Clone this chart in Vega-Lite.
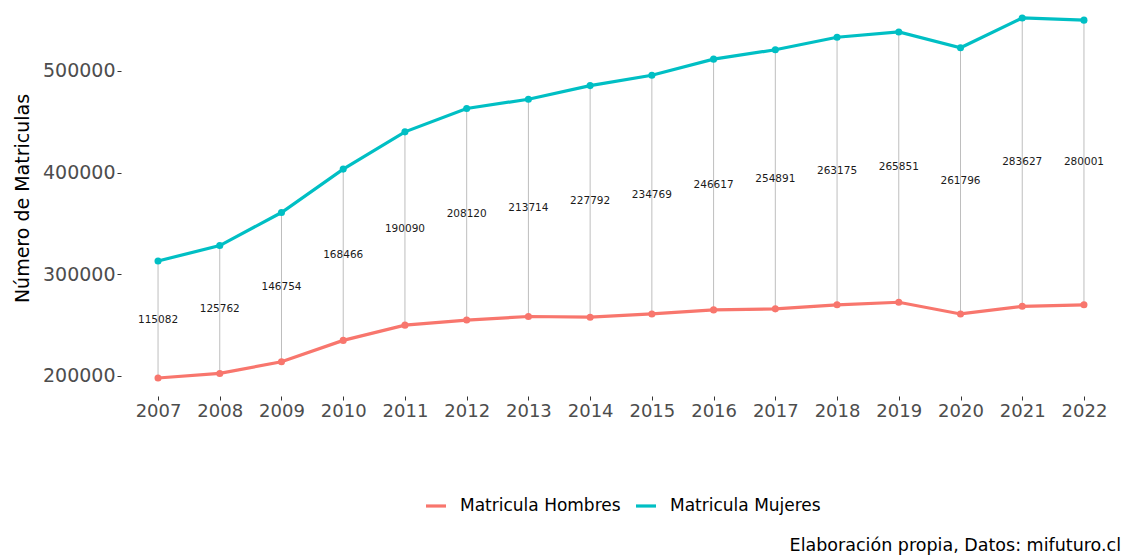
{
  "$schema": "https://vega.github.io/schema/vega-lite/v6.json",
  "width": 1000,
  "height": 396,
  "autosize": "none",
  "padding": {"left": 121, "top": 0, "right": 2, "bottom": 161},
  "background": "white",
  "title": {
    "text": "Elaboración propia, Datos: mifuturo.cl",
    "orient": "bottom",
    "anchor": "end",
    "offset": 23,
    "fontSize": 17.5,
    "font": "DejaVu Sans",
    "fontWeight": "normal",
    "color": "#000000"
  },
  "data": {
    "values": [
      {"year": "2007", "serie": "Matricula Hombres", "value": 198000, "diff": 115082},
      {"year": "2007", "serie": "Matricula Mujeres", "value": 313082, "diff": 115082},
      {"year": "2008", "serie": "Matricula Hombres", "value": 202500, "diff": 125762},
      {"year": "2008", "serie": "Matricula Mujeres", "value": 328262, "diff": 125762},
      {"year": "2009", "serie": "Matricula Hombres", "value": 214000, "diff": 146754},
      {"year": "2009", "serie": "Matricula Mujeres", "value": 360754, "diff": 146754},
      {"year": "2010", "serie": "Matricula Hombres", "value": 235000, "diff": 168466},
      {"year": "2010", "serie": "Matricula Mujeres", "value": 403466, "diff": 168466},
      {"year": "2011", "serie": "Matricula Hombres", "value": 250000, "diff": 190090},
      {"year": "2011", "serie": "Matricula Mujeres", "value": 440090, "diff": 190090},
      {"year": "2012", "serie": "Matricula Hombres", "value": 255000, "diff": 208120},
      {"year": "2012", "serie": "Matricula Mujeres", "value": 463120, "diff": 208120},
      {"year": "2013", "serie": "Matricula Hombres", "value": 258500, "diff": 213714},
      {"year": "2013", "serie": "Matricula Mujeres", "value": 472214, "diff": 213714},
      {"year": "2014", "serie": "Matricula Hombres", "value": 257800, "diff": 227792},
      {"year": "2014", "serie": "Matricula Mujeres", "value": 485592, "diff": 227792},
      {"year": "2015", "serie": "Matricula Hombres", "value": 261000, "diff": 234769},
      {"year": "2015", "serie": "Matricula Mujeres", "value": 495769, "diff": 234769},
      {"year": "2016", "serie": "Matricula Hombres", "value": 265000, "diff": 246617},
      {"year": "2016", "serie": "Matricula Mujeres", "value": 511617, "diff": 246617},
      {"year": "2017", "serie": "Matricula Hombres", "value": 266000, "diff": 254891},
      {"year": "2017", "serie": "Matricula Mujeres", "value": 520891, "diff": 254891},
      {"year": "2018", "serie": "Matricula Hombres", "value": 270000, "diff": 263175},
      {"year": "2018", "serie": "Matricula Mujeres", "value": 533175, "diff": 263175},
      {"year": "2019", "serie": "Matricula Hombres", "value": 272500, "diff": 265851},
      {"year": "2019", "serie": "Matricula Mujeres", "value": 538351, "diff": 265851},
      {"year": "2020", "serie": "Matricula Hombres", "value": 261000, "diff": 261796},
      {"year": "2020", "serie": "Matricula Mujeres", "value": 522796, "diff": 261796},
      {"year": "2021", "serie": "Matricula Hombres", "value": 268500, "diff": 283627},
      {"year": "2021", "serie": "Matricula Mujeres", "value": 552127, "diff": 283627},
      {"year": "2022", "serie": "Matricula Hombres", "value": 270000, "diff": 280001},
      {"year": "2022", "serie": "Matricula Mujeres", "value": 550001, "diff": 280001}
    ]
  },
  "encoding": {
    "x": {
      "field": "year",
      "type": "ordinal",
      "scale": {"type": "point", "padding": 0.6},
      "axis": {
        "title": null,
        "labelAngle": 0,
        "labelFontSize": 18,
        "labelColor": "#4D4D4D",
        "labelFont": "DejaVu Sans",
        "tickColor": "#333333",
        "tickSize": 4,
        "domain": false,
        "grid": false,
        "labelPadding": 2
      }
    }
  },
  "layer": [
    {
      "mark": {"type": "rule", "color": "#BEBEBE", "strokeWidth": 1},
      "encoding": {
        "y": {"aggregate": "min", "field": "value", "type": "quantitative"},
        "y2": {"aggregate": "max", "field": "value"}
      }
    },
    {
      "mark": {"type": "line", "strokeWidth": 3.2, "point": {"size": 50, "filled": true}},
      "encoding": {
        "y": {
          "field": "value",
          "type": "quantitative",
          "scale": {"domain": [180300, 569800], "nice": false, "zero": false},
          "axis": {
            "title": "Número de Matriculas",
            "titleFontSize": 19,
            "titleFont": "DejaVu Sans",
            "titleFontWeight": "normal",
            "titleColor": "#000000",
            "titlePadding": 10,
            "values": [200000, 300000, 400000, 500000],
            "format": "d",
            "labelFontSize": 19,
            "labelColor": "#4D4D4D",
            "labelFont": "DejaVu Sans",
            "tickColor": "#333333",
            "tickSize": 4,
            "domain": false,
            "grid": false,
            "labelPadding": 2
          }
        },
        "color": {
          "field": "serie",
          "type": "nominal",
          "scale": {"domain": ["Matricula Hombres", "Matricula Mujeres"], "range": ["#F8766D", "#00BFC4"]},
          "legend": {
            "title": null,
            "orient": "none",
            "direction": "horizontal",
            "legendX": 303,
            "legendY": 494,
            "labelFontSize": 17,
            "labelLimit": 400,
            "labelFont": "DejaVu Sans",
            "labelColor": "#000000",
            "symbolType": "stroke",
            "symbolStrokeWidth": 3.2,
            "symbolSize": 400,
            "columnPadding": 8,
            "labelOffset": 12
          }
        }
      }
    },
    {
      "mark": {"type": "text", "fontSize": 10.5, "font": "DejaVu Sans", "color": "#1A1A1A"},
      "encoding": {
        "y": {"aggregate": "mean", "field": "value", "type": "quantitative"},
        "text": {"aggregate": "max", "field": "diff", "type": "quantitative", "format": "d"}
      }
    }
  ],
  "config": {
    "view": {"stroke": null}
  }
}
